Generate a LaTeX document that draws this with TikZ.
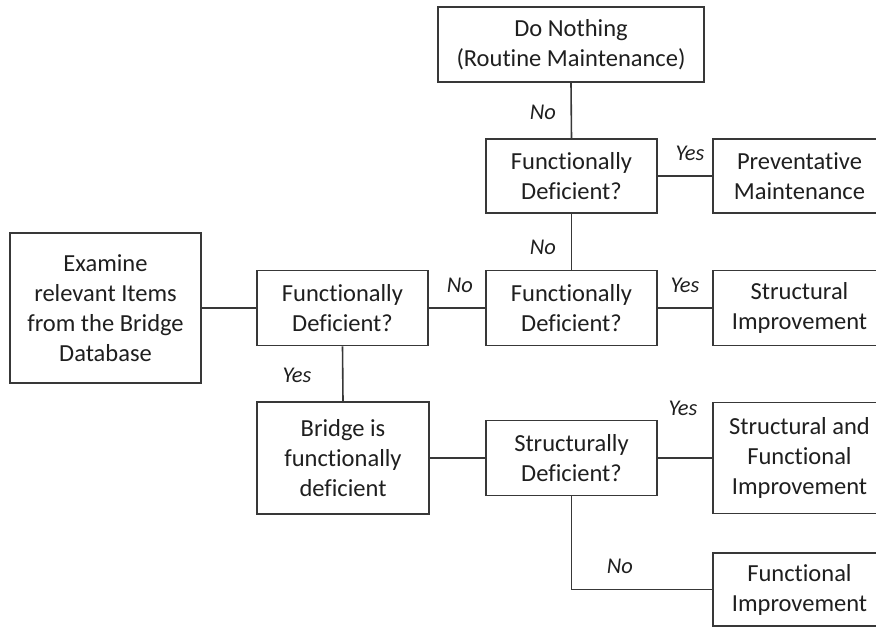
\documentclass[tikz,border=0pt]{standalone}
\usepackage{fontspec}
\setmainfont{Carlito}[RawFeature={-liga;-clig;-calt;-dlig}]
\begin{document}
\begin{tikzpicture}[x=1pt,y=-1pt,
  line width=1.6pt,
  every node/.style={text=black!88},
  box/.style={draw=black!78, fill=white, align=center, inner sep=0pt,
    font=\fontsize{24.5}{30}\selectfont},
  wire/.style={draw=black!78},
  lbl/.style={font=\fontsize{22.5}{24}\selectfont\itshape, inner sep=0pt}]
\useasboundingbox (0,0) rectangle (876,628);
\clip (0,0) rectangle (876,628);

% decision boxes and outcomes
\node[box, minimum width=266pt, minimum height=75pt] (nothing) at (571,44.5)
  {Do Nothing\\(Routine Maintenance)};
\node[box, minimum width=171pt, minimum height=74pt] (fdtop) at (571.5,176)
  {Functionally\\Deficient?};
\node[box, minimum width=173pt, minimum height=74pt] (prev) at (799.5,176)
  {Preventative\\Maintenance};
\node[box, minimum width=191pt, minimum height=150pt] (exam) at (105.5,308)
  {Examine\\relevant Items\\from the Bridge\\Database};
\node[box, minimum width=171pt, minimum height=75pt] (fdmain) at (342.5,308)
  {Functionally\\Deficient?};
\node[box, minimum width=171pt, minimum height=75pt] (fdmid) at (571.5,308)
  {Functionally\\Deficient?};
\node[box, minimum width=173pt, minimum height=75pt] (struct) at (799.5,308)
  {Structural\\Improvement};
\node[box, minimum width=172pt, minimum height=112pt] (bridge) at (343,458)
  {Bridge is\\functionally\\deficient};
\node[box, minimum width=171pt, minimum height=75pt] (sd) at (571.5,458)
  {Structurally\\Deficient?};
\node[box, minimum width=173pt, minimum height=111pt] (both) at (799.5,458)
  {Structural and\\Functional\\Improvement};
\node[box, minimum width=173pt, minimum height=73pt] (func) at (799.5,589.5)
  {Functional\\Improvement};

% connectors
\draw[wire] (nothing.south) -- (fdtop.north);
\draw[wire] (fdtop.east) -- (prev.west);
\draw[wire] (fdtop.south) -- (fdmid.north);
\draw[wire] (exam.east) -- (fdmain.west);
\draw[wire] (fdmain.east) -- (fdmid.west);
\draw[wire] (fdmid.east) -- (struct.west);
\draw[wire] (fdmain.south) -- (bridge.north);
\draw[wire] (bridge.east) -- (sd.west);
\draw[wire] (sd.east) -- (both.west);
\draw[wire] (sd.south) |- (func.west);

% branch labels
\node[lbl] (l1) at (543,112) {No};
\node[lbl] (l2) at (690,153) {Yes};
\node[lbl] (l3) at (543,247) {No};
\node[lbl] (l4) at (460,285) {No};
\node[lbl] (l5) at (685,285) {Yes};
\node[lbl] (l6) at (297,375) {Yes};
\node[lbl] (l7) at (683,408) {Yes};
\node[lbl] (l8) at (620,566) {No};
\end{tikzpicture}
\end{document}
